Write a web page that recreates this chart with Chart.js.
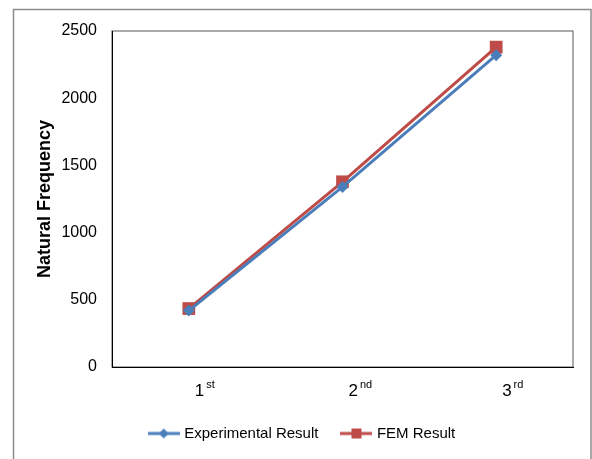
<!DOCTYPE html>
<html>
<head>
<meta charset="utf-8">
<script src="https://cdn.jsdelivr.net/npm/chart.js@4.4.0/dist/chart.umd.min.js"></script>
<style>
  html, body { margin: 0; padding: 0; background: #fff; }
  #wrap { width: 592px; height: 459px; }
</style>
</head>
<body>
<div id="wrap"><canvas id="freqChart" width="592" height="459"></canvas></div>
<script>
// --- DATA ---
const modeNumbers = ['1', '2', '3'];
const modeSuffixes = ['st', 'nd', 'rd'];   // drawn as superscript
const experimentalValues = [420, 1340, 2320];
const femValues = [435, 1378, 2380];
const yTicks = [0, 500, 1000, 1500, 2000, 2500];
const seriesNames = ['Experimental Result', 'FEM Result'];

const FONT = "'Liberation Sans', Arial, sans-serif";
const BLUE = '#4A7EBB';
const RED = '#BE4B48';

// small canvas used as the legend symbol: a line with the marker on it
function makeLegendMarker(color, shape) {
    const c = document.createElement('canvas');
    c.width = 32;
    c.height = 14;
    const g = c.getContext('2d');
    g.strokeStyle = color;
    g.lineWidth = 3;
    g.beginPath();
    g.moveTo(0, 7);
    g.lineTo(32, 7);
    g.stroke();
    g.fillStyle = color;
    g.beginPath();
    if (shape === 'diamond') {
        g.moveTo(16, 2); g.lineTo(21, 7); g.lineTo(16, 12); g.lineTo(11, 7);
        g.closePath();
    } else {
        g.rect(11, 2, 10, 10);
    }
    g.fill();
    return c;
}
const legendMarkers = [makeLegendMarker(BLUE, 'diamond'), makeLegendMarker(RED, 'square')];

// white page, outer grey frame and the plot frame
const framePlugin = {
    id: 'frames',
    beforeDraw(chart) {
        const ctx = chart.ctx;
        const a = chart.chartArea;
        ctx.save();
        ctx.fillStyle = '#fff';
        ctx.fillRect(0, 0, chart.width, chart.height);
        ctx.strokeStyle = '#8c8c8c';
        ctx.lineWidth = 1.5;
        ctx.strokeRect(13.5, 9.5, 577.5, 500);
        ctx.strokeStyle = '#595959';
        ctx.lineWidth = 1;
        ctx.strokeRect(a.left, a.top, a.right - a.left, a.bottom - a.top);
        ctx.restore();
    }
};

// category labels with superscript ordinal suffix
const ordinalLabels = {
    id: 'ordinalLabels',
    afterDraw(chart) {
        const ctx = chart.ctx;
        const xScale = chart.scales.x;
        ctx.save();
        ctx.fillStyle = '#000';
        ctx.textBaseline = 'alphabetic';
        ctx.textAlign = 'left';
        modeNumbers.forEach((num, i) => {
            const x = xScale.getPixelForTick(i) + 6;
            ctx.font = '17px ' + FONT;
            ctx.fillText(num, x, 396);
            const w = ctx.measureText(num).width;
            ctx.font = '11px ' + FONT;
            ctx.fillText(modeSuffixes[i], x + w + 2, 388);
        });
        ctx.restore();
    }
};

const ctx = document.getElementById('freqChart').getContext('2d');
new Chart(ctx, {
    type: 'line',
    data: {
        labels: modeNumbers.map((n, i) => n + modeSuffixes[i]),
        datasets: [{
            label: seriesNames[0],
            data: experimentalValues,
            borderColor: BLUE,
            backgroundColor: BLUE,
            borderWidth: 3,
            pointStyle: 'rectRot',
            pointRadius: 6,
            pointBorderWidth: 0,
            fill: false,
            tension: 0
        }, {
            label: seriesNames[1],
            data: femValues,
            borderColor: RED,
            backgroundColor: RED,
            borderWidth: 3,
            pointStyle: 'rect',
            pointRadius: 9,
            pointBorderWidth: 0,
            fill: false,
            tension: 0
        }]
    },
    options: {
        responsive: false,
        animation: false,
        layout: { padding: { top: 31, right: 19, left: 33, bottom: 8 } },
        scales: {
            x: {
                type: 'category',
                offset: true,
                grid: { display: false, drawTicks: false },
                border: { display: true, color: '#000', width: 1 },
                ticks: { display: false },
                afterFit: (scale) => { scale.height = 34; }
            },
            y: {
                min: 0,
                max: 2500,
                grid: { display: false, drawTicks: false },
                border: { display: true, color: '#000', width: 1 },
                afterBuildTicks: (scale) => { scale.ticks = yTicks.map(v => ({ value: v })); },
                ticks: {
                    color: '#000',
                    padding: 15,
                    font: { family: FONT, size: 16 },
                    callback: (v) => String(v)
                },
                title: {
                    display: true,
                    text: 'Natural Frequency',
                    color: '#000',
                    font: { family: FONT, size: 18, weight: 'bold' },
                    padding: { top: 1, bottom: 0 }
                },
                afterFit: (scale) => { scale.width = 79; }
            }
        },
        plugins: {
            legend: {
                position: 'bottom',
                labels: {
                    usePointStyle: true,
                    pointStyleWidth: 26,
                    padding: 25,
                    color: '#000',
                    font: { family: FONT, size: 15 },
                    generateLabels: (chart) => chart.data.datasets.map((ds, i) => ({
                        text: ds.label,
                        fillStyle: ds.backgroundColor,
                        strokeStyle: ds.borderColor,
                        lineWidth: 0,
                        pointStyle: legendMarkers[i],
                        hidden: false,
                        datasetIndex: i
                    }))
                }
            },
            tooltip: { enabled: false }
        }
    },
    plugins: [framePlugin, ordinalLabels]
});
</script>
</body>
</html>
